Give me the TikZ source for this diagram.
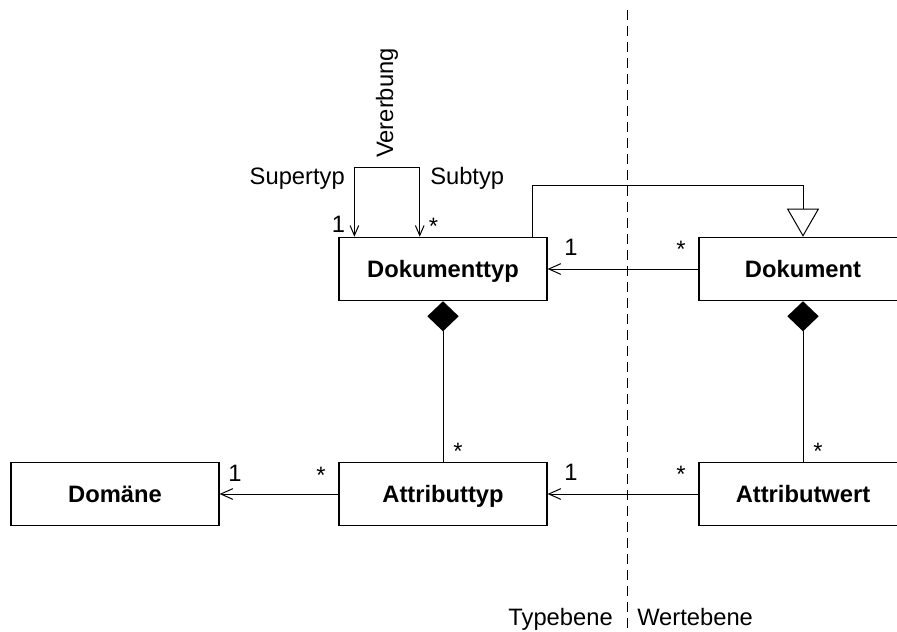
\documentclass[tikz,border=0pt]{standalone}
\usepackage{fontspec}
\setmainfont{Liberation Sans}
\usetikzlibrary{arrows.meta}
\begin{document}
\begin{tikzpicture}[x=0.75pt,y=-0.75pt,
  every node/.style={font=\fontsize{17.8}{20}\selectfont, inner sep=0pt},
  class/.style={draw, line width=0.9pt, minimum width=156pt, minimum height=47.5pt,
    font=\fontsize{17.8}{20}\selectfont\bfseries, text height=12.7pt, text depth=0pt},
  conn/.style={line width=0.75pt},
  nav/.style={conn, -{Straight Barb[length=9pt,width=8pt]}},
  selfnav/.style={conn, {Straight Barb[length=7.5pt,width=6.5pt]}-{Straight Barb[length=7.5pt,width=6.5pt]}},
  gen/.style={conn, -{Triangle[open,length=21pt,width=24pt]}},
  comp/.style={conn, -{Diamond[length=22.5pt,width=23.5pt]}},
  mult/.style={anchor=base},
  divider/.style={line width=0.75pt, dash pattern=on 7.5pt off 4.5pt}]

\useasboundingbox (0,0) rectangle (897,632);
\clip (0,0) rectangle (897,632);

% level separator
\draw[divider] (627.5,10) -- (627.5,632);
\node[anchor=base east] (typebene) at (613,625) {Typebene};
\node[anchor=base west] (wertebene) at (637,625) {Wertebene};

% classes
\node[class] (Dokumenttyp) at (443,269) {Dokumenttyp};
\node[class] (Dokument) at (803,269) {Dokument};
\node[class] (Domane) at (115,494) {Domäne};
\node[class] (Attributtyp) at (443,494) {Attributtyp};
\node[class] (Attributwert) at (803,494) {Attributwert};

% inheritance between document types (self association)
\draw[selfnav] ([xshift=12pt]Dokumenttyp.north west) -- ++(0,-69) -| ([xshift=61pt]Dokumenttyp.north west);
\node[anchor=base east] (supertyp) at (345,184) {Supertyp};
\node[anchor=base west] (subtyp) at (430,184) {Subtyp};
\node[rotate=90] (vererbung) at (387,103) {Vererbung};
\node[mult] (m1) at (338.5,232) {1};
\node[mult] (m2) at (433.5,234) {*};

% generalization Dokument -> Dokumenttyp's instance side
\draw[gen] ([xshift=-11.25pt]Dokumenttyp.north east) -- ++(0,-51) -| (Dokument.north);

% associations
\draw[nav] (Dokument) -- (Dokumenttyp);
\node[mult] (m3) at (571,255) {1};
\node[mult] (m4) at (681,257) {*};

\draw[nav] (Attributwert) -- (Attributtyp);
\node[mult] (m5) at (571,480) {1};
\node[mult] (m6) at (681,482) {*};

\draw[nav] (Attributtyp) -- (Domane);
\node[mult] (m7) at (235,481) {1};
\node[mult] (m8) at (321,483) {*};

% compositions
\draw[comp] (Attributtyp) -- (Dokumenttyp);
\node[mult] (m9) at (458,459) {*};
\draw[comp] (Attributwert) -- (Dokument);
\node[mult] (m10) at (818,459) {*};

\end{tikzpicture}
\end{document}
